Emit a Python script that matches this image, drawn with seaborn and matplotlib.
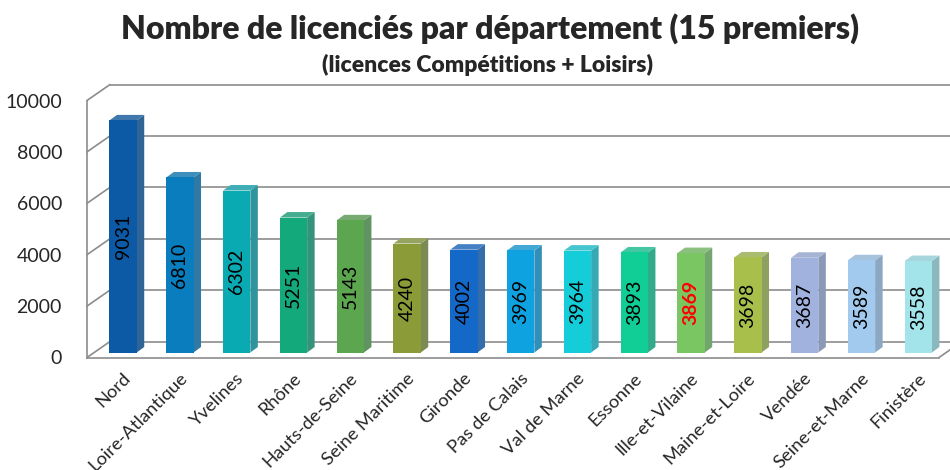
import numpy as np
import pandas as pd
import matplotlib
matplotlib.use("Agg")
import matplotlib.pyplot as plt
from matplotlib.patches import Polygon
from matplotlib.transforms import ScaledTranslation
import seaborn as sns

# ---------------- data ----------------
departements = ["Nord", "Loire-Atlantique", "Yvelines", "Rhône", "Hauts-de-Seine",
                "Seine Maritime", "Gironde", "Pas de Calais", "Val de Marne", "Essonne",
                "Ille-et-Vilaine", "Maine-et-Loire", "Vendée", "Seine-et-Marne", "Finistère"]
licencies = [9031, 6810, 6302, 5251, 5143, 4240, 4002, 3969, 3964, 3893,
             3869, 3698, 3687, 3589, 3558]
bar_colors = ["#0C5AA6", "#0A7DBE", "#0AAAB2", "#13A97A", "#5DA650",
              "#8A9B37", "#1468C8", "#0FA2E0", "#14CDD8", "#10CE96",
              "#7AC663", "#A8BF4C", "#A2B2DE", "#A2CAEE", "#A2E4EA"]
highlight = "Ille-et-Vilaine"
y_ticks = [0, 2000, 4000, 6000, 8000, 10000]
title = "Nombre de licenciés par département (15 premiers)"
subtitle = "(licences Compétitions + Loisirs)"

df = pd.DataFrame({"dep": departements, "lic": licencies})

sns.set_style("white")
plt.rcParams["font.family"] = ["Lato", "DejaVu Sans"]

W, H = 950, 470
fig = plt.figure(figsize=(W / 100, H / 100), dpi=100)
ax_left, ax_right, ax_bot, ax_top = 87, 939, 357.5, 100.5
ax = fig.add_axes([ax_left / W, (H - ax_bot) / H, (ax_right - ax_left) / W, (ax_bot - ax_top) / H])

n = len(departements)
ax.set_xlim(-0.5, n - 0.5)
ax.set_ylim(0, 10000)

# pixel -> data conversion for the 3D depth effect
px_x = (n) / (ax_right - ax_left)
px_y = 10000 / (ax_bot - ax_top)
dxF, dyF = 23 * px_x, 16 * px_y       # floor / walls depth
dxB, dyB = 7.7 * px_x, 5.0 * px_y     # bar front position within the depth
dxD, dyD = 7.5 * px_x, 5.5 * px_y     # bar thickness

grid_c = "#8C8C8C"
# back wall + left wall lines
for v in y_ticks:
    ax.plot([-0.5 + dxF, n + 2], [v + dyF, v + dyF], color=grid_c, lw=1.2,
            clip_on=False, zorder=1, solid_capstyle="butt")
    ax.plot([-0.5, -0.5 + dxF], [v, v + dyF], color=grid_c, lw=1.2,
            clip_on=False, zorder=1)
ax.plot([n - 0.5, n - 0.5 + dxF], [0, dyF], color=grid_c, lw=1.2, clip_on=False, zorder=1)

sns.barplot(data=df, x="dep", y="lic", hue="dep", palette=bar_colors, legend=False,
            width=0.48, saturation=1, ax=ax, zorder=3, linewidth=0)

def shade(c, f):
    rgb = np.array(matplotlib.colors.to_rgb(c))
    gray = np.array([0.45, 0.5, 0.55])
    return tuple(np.clip(rgb * f + gray * (1 - f) * 0.9, 0, 1))

def lighten(c, f):
    rgb = np.array(matplotlib.colors.to_rgb(c))
    return tuple(rgb + (1 - rgb) * f)

for p, dep, val, col in zip(ax.patches, departements, licencies, bar_colors):
    p.set_x(p.get_x() + dxB)
    p.set_y(dyB)
    x0, x1 = p.get_x(), p.get_x() + p.get_width()
    y0, y1 = dyB, dyB + p.get_height()
    side = Polygon([(x1, y0), (x1 + dxD, y0 + dyD), (x1 + dxD, y1 + dyD), (x1, y1)],
                   closed=True, facecolor=shade(col, 0.6), edgecolor="none",
                   zorder=2.9, clip_on=False)
    top = Polygon([(x0, y1), (x1, y1), (x1 + dxD, y1 + dyD), (x0 + dxD, y1 + dyD)],
                  closed=True, facecolor=lighten(shade(col, 0.8), 0.15), edgecolor="none",
                  zorder=2.9, clip_on=False)
    ax.add_patch(side)
    ax.add_patch(top)
    hl = dep == highlight
    ax.text((x0 + x1) / 2, y0 + p.get_height() / 2, f"{val}", rotation=90,
            ha="center", va="center", fontsize=14,
            color="#FF0000" if hl else "black",
            fontweight="bold" if hl else "normal", zorder=5)

# axes styling
for s in ["top", "right"]:
    ax.spines[s].set_visible(False)
for s in ["left", "bottom"]:
    ax.spines[s].set_color(grid_c)
    ax.spines[s].set_linewidth(1.2)
    ax.spines[s].set_zorder(4)

ax.set_yticks(y_ticks)
ax.set_yticklabels([str(v) for v in y_ticks], fontsize=14)
ax.tick_params(axis="y", length=7, width=1.2, color=grid_c, pad=11, direction="out")
ax.set_xticks(range(n))
ax.set_xticklabels(departements, rotation=45, ha="right", rotation_mode="anchor", fontsize=13.2)
ax.tick_params(axis="x", which="major", length=0, pad=9)
ax.set_xticks(np.arange(-0.5, n, 1), minor=True)
ax.tick_params(axis="x", which="minor", length=5, width=1.2, color=grid_c, direction="out")
shift = ScaledTranslation(7 / 100, 0, fig.dpi_scale_trans)
for lbl in ax.get_xticklabels():
    lbl.set_transform(lbl.get_transform() + shift)
ax.set_xlabel("")
ax.set_ylabel("")
ax.grid(False)
ax.set_facecolor("none")

fig.text(490 / W, 1 - 29 / H, title, ha="center", va="center", fontsize=23, fontweight="heavy")
fig.text(488 / W, 1 - 65 / H, subtitle, ha="center", va="center", fontsize=16.5, fontweight="heavy")

fig.savefig("out.png", dpi=100)
